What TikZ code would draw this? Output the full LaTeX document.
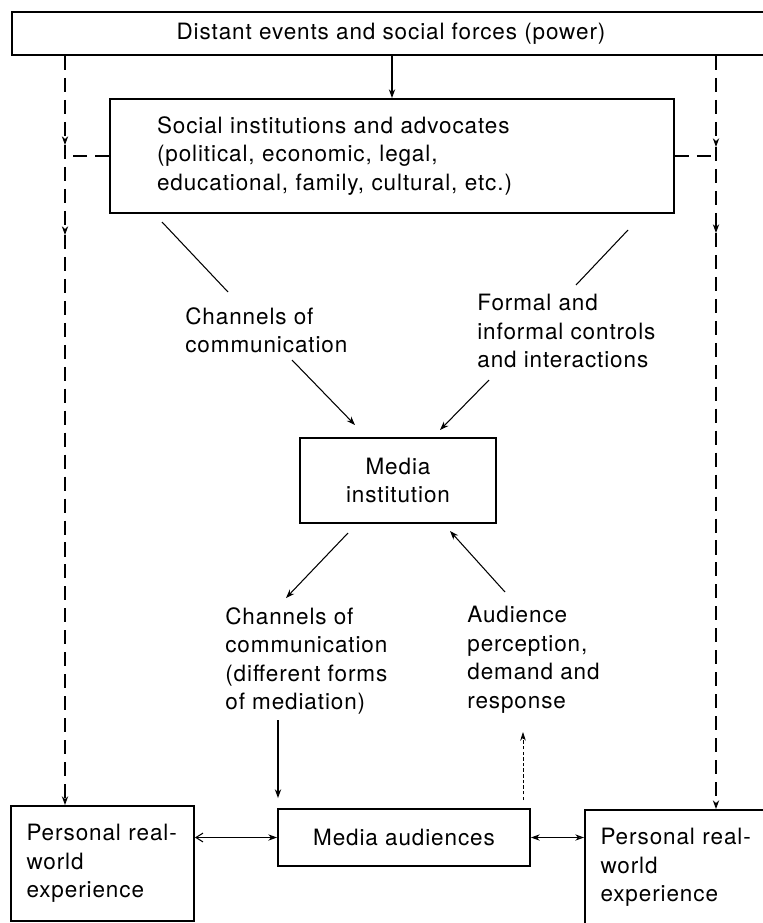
\documentclass[tikz,border=0pt]{standalone}
\usepackage{fontspec}
\setmainfont[LetterSpace=4]{TeX Gyre Heros}
\usetikzlibrary{arrows.meta, positioning, calc}
\newcommand{\pxu}{0.02cm}
\tikzset{
  box/.style={rectangle, draw, line width=1.1pt, inner sep=0pt},
  note/.style={align=left, inner sep=0pt, anchor=north west},
  arrow/.style={-{Stealth[length=5pt, width=3.6pt]}, line width=0.6pt},
  line/.style={line width=0.6pt},
  feed/.style={dash pattern=on 8pt off 4.5pt, line width=0.6pt},
  dotarrow/.style={-{Stealth[length=5pt, width=3.2pt]}, dash pattern=on 2pt off 1.2pt, line width=0.4pt},
  personal/.style={box, align=left, minimum height=115*\pxu, text width=152*\pxu, inner xsep=15.5*\pxu}
}
\begin{document}
\begin{tikzpicture}[x=\pxu, y=-\pxu, every node/.style={font=\fontsize{12.8pt}{16.2pt}\selectfont}]
  \useasboundingbox (0,0) rectangle (763,923);
  \clip (0,0) rectangle (763,923);

  % boxes
  \node[box, minimum width=758*\pxu, minimum height=43*\pxu] (forces) at (391,33.5)
    {Distant events and social forces (power)};
  \node[box, minimum width=564*\pxu, minimum height=114*\pxu, text width=470*\pxu,
    inner xsep=47*\pxu, align=left] (social) at (392,156)
    {Social institutions and advocates\\(political, economic, legal,\\educational, family, cultural, etc.)};
  \node[box, minimum width=196*\pxu, minimum height=85*\pxu, align=center] (media) at (398,480.5)
    {Media\\institution};
  \node[box, minimum width=252*\pxu, minimum height=57*\pxu] (maud) at (404,837.5)
    {Media audiences};
  \node[personal] (lpers) at (102.5,863.5) {Personal real-\\world\\experience};
  \node[personal] (rpers) at (676.5,867.5) {Personal real-\\world\\experience};

  % labels
  \node[note] (chanA) at (185,307) {Channels of\\communication};
  \node[note] (formal) at (477,294) {Formal and\\informal controls\\and interactions};
  \node[note] (chanB) at (225,607) {Channels of\\communication\\(different forms\\of mediation)};
  \node[note] (audresp) at (467,606) {Audience\\perception,\\demand and\\response};

  % feedback lines at the sides
  \coordinate (lx) at (65,0);
  \coordinate (lA) at (65,145);
  \coordinate (lB) at (65,235);
  \coordinate (rx) at (716,0);
  \coordinate (rA) at (716,147);
  \coordinate (rB) at (716,233);
  \draw[feed, arrow] (forces.south -| lx) -- (lA);
  \draw[feed, arrow] (lA) -- (lB);
  \draw[feed, arrow] (lB) -- (lpers.north -| lx);
  \draw[feed] (social.west) -- (social.west -| lx);
  \draw[feed, arrow] (forces.south -| rx) -- (rA);
  \draw[feed, arrow] (rA) -- (rB);
  \draw[feed, arrow] (rB) -- (rpers.north -| rx);
  \draw[feed] (social.east) -- (social.east -| rx);

  \draw[arrow] (social.north |- forces.south) -- (social.north);

  % channels and controls
  \coordinate (s1) at (162,222);
  \coordinate (s2) at (228,292);
  \coordinate (s3) at (292,360);
  \coordinate (s4) at (355,425);
  \coordinate (f1) at (628,230);
  \coordinate (f2) at (576,285);
  \coordinate (f3) at (489,380);
  \coordinate (f4) at (440,430);
  \draw[line] (s1) -- (s2);
  \draw[arrow] (s3) -- (s4);
  \draw[line] (f1) -- (f2);
  \draw[arrow] (f3) -- (f4);

  % media to audiences and back
  \coordinate (m1) at (348,533);
  \coordinate (m2) at (286,598);
  \coordinate (a1) at (505,592);
  \coordinate (a2) at (450,531);
  \coordinate (cB) at (278,720);
  \coordinate (rR) at (523,732);
  \draw[arrow] (m1) -- (m2);
  \draw[arrow] (a1) -- (a2);
  \draw[arrow, shorten >=10*\pxu] (cB) -- (cB |- maud.north);
  \draw[dotarrow, shorten <=8*\pxu] (rR |- maud.north) -- (rR);

  \draw[line, {Straight Barb[length=4pt, width=5pt]}-{Stealth[length=5pt, width=3.6pt]}]
    (maud.west -| lpers.east) -- (maud.west);
  \draw[line, {Stealth[length=5pt, width=3.6pt]}-{Stealth[open, length=5pt, width=3.6pt]}]
    (maud.east) -- (maud.east -| rpers.west);
\end{tikzpicture}
\end{document}
